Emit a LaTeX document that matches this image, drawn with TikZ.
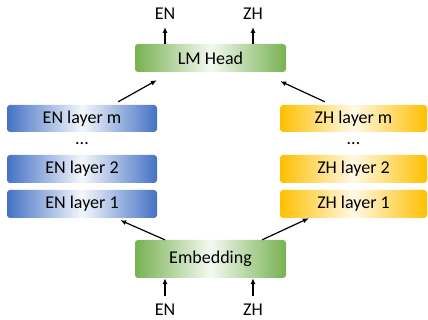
\documentclass[tikz,border=0pt]{standalone}
\usepackage{fontspec}
\setmainfont{Carlito}
\usetikzlibrary{arrows.meta}
\definecolor{engreen}{HTML}{70AD47}
\definecolor{enblue}{HTML}{4472C4}
\definecolor{zhgold}{HTML}{FFC000}
\tikzset{
 block/.style={rounded corners=3pt,minimum height=28pt,inner sep=0pt,font=\fontsize{18}{21}\selectfont},
 greenbox/.style={block,minimum width=151pt,left color=engreen!95!white,right color=engreen!95!white,middle color=engreen!8!white},
 bluebox/.style={block,minimum width=150pt,left color=enblue,right color=enblue,middle color=enblue!6!white},
 goldbox/.style={block,minimum width=147pt,left color=zhgold,right color=zhgold,middle color=zhgold!10!white},
 lang/.style={inner sep=0pt,font=\fontsize{18}{21}\selectfont},
 arr/.style={-{Latex[length=6pt,width=5pt]},line width=1.2pt}
}
\begin{document}
\begin{tikzpicture}[x=1pt,y=1pt]
 \useasboundingbox (0,0) rectangle (428,320);
 % shared head and embedding
 \node[greenbox] (lm) at (210.5,262) {LM Head};
 \node[greenbox,minimum height=38pt] (emb) at (210.5,61) {Embedding};
 % english stack
 \node[bluebox,minimum height=27pt] (enm) at (82,201.5) {EN layer m};
 \node[bluebox] (en2) at (82,151) {EN layer 2};
 \node[bluebox] (en1) at (82,116) {EN layer 1};
 \node[lang] (endots) at (82,176) {...};
 % chinese stack
 \node[goldbox,minimum height=27pt] (zhm) at (353.5,201.5) {ZH layer m};
 \node[goldbox] (zh2) at (353.5,151) {ZH layer 2};
 \node[goldbox] (zh1) at (353.5,116) {ZH layer 1};
 \node[lang] (zhdots) at (353.5,176) {...};
 % inputs and outputs
 \node[lang] (inen) at (165,10) {EN};
 \node[lang] (inzh) at (253,10) {ZH};
 \node[lang] (outen) at (165,306) {EN};
 \node[lang] (outzh) at (253,306) {ZH};
 \draw[arr,shorten <=8pt] (inen.north) -- (emb.south -| inen);
 \draw[arr,shorten <=8pt] (inzh.north) -- (emb.south -| inzh);
 \draw[arr,shorten >=7pt] (lm.north -| outen) -- (outen.south);
 \draw[arr,shorten >=7pt] (lm.north -| outzh) -- (outzh.south);
 \draw[arr] ([xshift=30pt]emb.north west) -- ([shift={(-37,-2)}]en1.south east);
 \draw[arr] ([xshift=-24pt]emb.north east) -- ([shift={(29,0)}]zh1.south west);
 \draw[arr] ([shift={(-39,3)}]enm.north east) -- ([shift={(22,-8)}]lm.south west);
 \draw[arr] ([shift={(45,3)}]zhm.north west) -- ([shift={(-6,-9)}]lm.south east);
\end{tikzpicture}
\end{document}
